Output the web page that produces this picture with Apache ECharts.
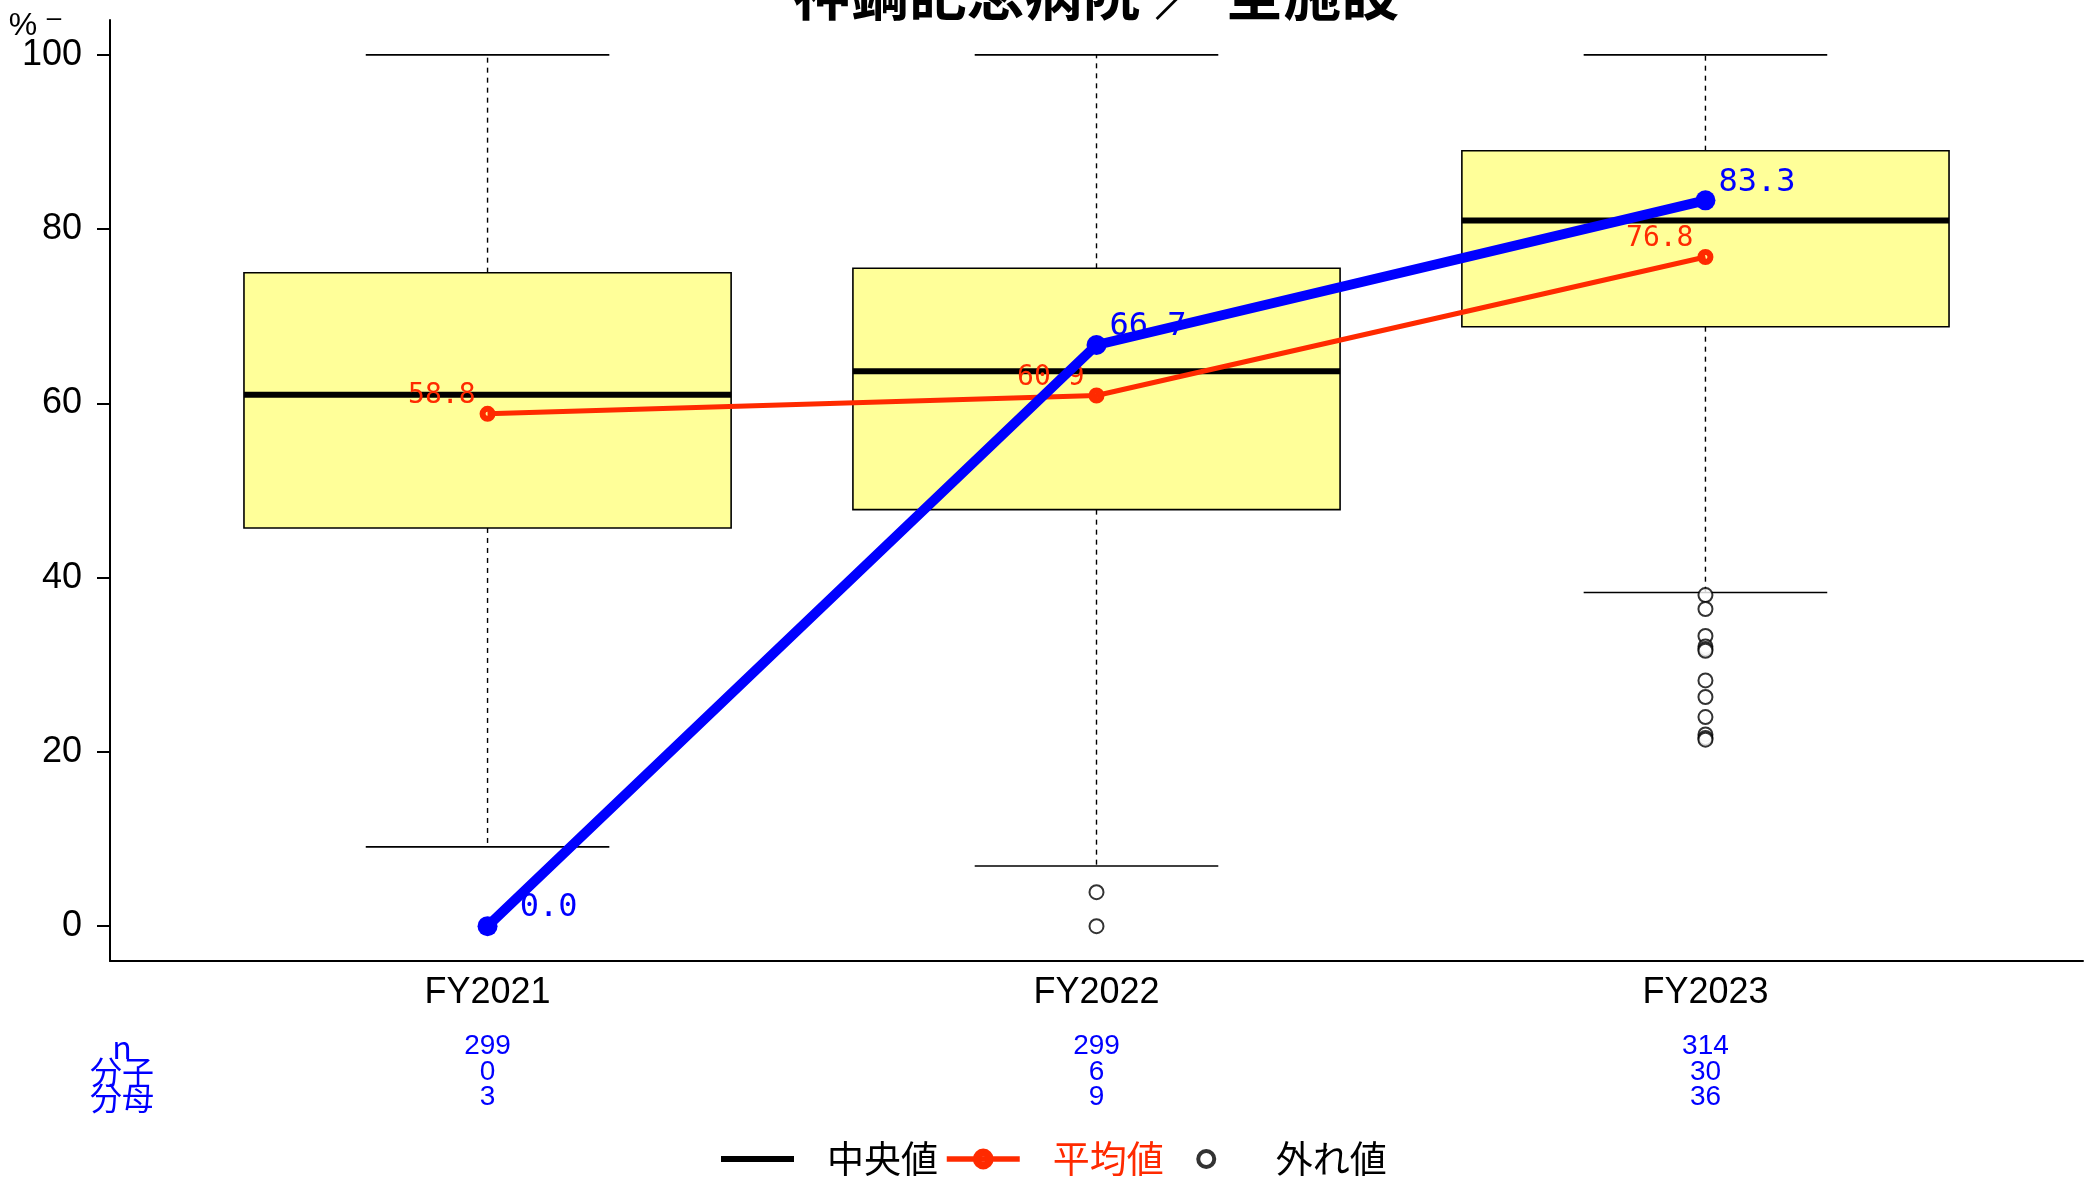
<!DOCTYPE html>
<html>
<head>
<meta charset="utf-8">
<script src="https://cdn.jsdelivr.net/npm/echarts@6/dist/echarts.min.js"></script>
<style>
html,body{margin:0;padding:0;background:#fff;}
#chart{width:2089px;height:1181px;}
</style>
</head>
<body>
<div id="chart"></div>
<script>
// ---- data ----
const categories = ['FY2021', 'FY2022', 'FY2023'];
const whiskerLow  = [9.1, 6.9, 38.3];
const q1          = [45.7, 47.8, 68.8];
const median      = [61.0, 63.7, 81.0];
const q3          = [75.0, 75.5, 89.0];
const whiskerHigh = [100, 100, 100];
const meanValues     = [58.8, 60.9, 76.8];
const hospitalValues = [0.0, 66.7, 83.3];
const outliersFY2021 = [];
const outliersFY2022 = [3.9, 0];
const outliersFY2023 = [38.0, 36.4, 33.3, 32.1, 31.8, 31.6, 28.2, 26.3, 24.0, 22.0, 21.6, 21.4];
const nCounts      = [299, 299, 314];
const numerators   = [0, 6, 30];
const denominators = [3, 9, 36];
const yTicks = [0, 20, 40, 60, 80, 100];
const titleText = '神鋼記念病院 ／ 全施設';
const rowLabels = ['n', '分子', '分母'];
const legendNames = ['中央値', '平均値', '外れ値'];

// ---- build ----
const xPositions = categories.map((c, i) => i + 1);
const boxData = categories.map((c, i) => [xPositions[i], whiskerLow[i], q1[i], median[i], q3[i], whiskerHigh[i]]);
const outlierData = [];
[outliersFY2021, outliersFY2022, outliersFY2023].forEach((arr, i) => arr.forEach(v => outlierData.push([xPositions[i], v])));
const meanData = meanValues.map((v, i) => [xPositions[i], v]);
const hospData = hospitalValues.map((v, i) => [xPositions[i], v]);

const SANS = '"Liberation Sans",Arial,sans-serif';
const CJK = '"Noto Sans CJK JP","Noto Sans",sans-serif';
const MONO = '"DejaVu Sans Mono","Liberation Mono",monospace';
const RED = '#FF2A00';
const BLUE = '#0000FF';
const fmt = v => v.toFixed(1).padStart(4, ' ');

function renderBox(params, api) {
  const x = api.value(0);
  const lo = api.value(1), a = api.value(2), m = api.value(3), b = api.value(4), hi = api.value(5);
  const pLo = api.coord([x, lo]), pA = api.coord([x, a]), pM = api.coord([x, m]);
  const pB = api.coord([x, b]), pHi = api.coord([x, hi]);
  const boxW = api.size([0.8, 0])[0];
  const capW = api.size([0.4, 0])[0];
  const cx = pA[0];
  const dashStyle = {stroke: '#000', lineWidth: 1.4, lineDash: [5, 5], fill: null};
  const solid = {stroke: '#000', lineWidth: 1.6, fill: null};
  return {
    type: 'group',
    children: [
      {type: 'line', shape: {x1: cx, y1: pB[1], x2: cx, y2: pHi[1]}, style: dashStyle},
      {type: 'line', shape: {x1: cx, y1: pA[1], x2: cx, y2: pLo[1]}, style: dashStyle},
      {type: 'line', shape: {x1: cx - capW / 2, y1: pHi[1], x2: cx + capW / 2, y2: pHi[1]}, style: solid},
      {type: 'line', shape: {x1: cx - capW / 2, y1: pLo[1], x2: cx + capW / 2, y2: pLo[1]}, style: solid},
      {type: 'rect', shape: {x: cx - boxW / 2, y: pB[1], width: boxW, height: pA[1] - pB[1]},
        style: {fill: '#FFFF99', stroke: '#000', lineWidth: 1.6}},
      {type: 'line', shape: {x1: cx - boxW / 2, y1: pM[1], x2: cx + boxW / 2, y2: pM[1]},
        style: {stroke: '#000', lineWidth: 6}}
    ]
  };
}

// symbols / legend icons
const DONUT = 'path://M0 8A8 8 0 1 0 16 8A8 8 0 1 0 0 8ZM6 8A2 2 0 1 1 10 8A2 2 0 1 1 6 8Z';
const ICON_MEDIAN = 'path://M0 10H73V16H0Z';
const ICON_OUTLIER = 'path://M0 0L0.01 0M73 26L73.01 26M26.5 13A10 10 0 1 0 46.5 13A10 10 0 1 0 26.5 13ZM30.5 13A6 6 0 1 1 42.5 13A6 6 0 1 1 30.5 13Z';

const chart = echarts.init(document.getElementById('chart'), null, {renderer: 'canvas'});
chart.setOption({
  animation: false,
  backgroundColor: '#fff',
  grid: {left: 110, right: 6, top: 20, bottom: 220, containLabel: false},
  xAxis: {
    type: 'value', min: 0.38, max: 3.62,
    axisLine: {show: true, onZero: false, lineStyle: {color: '#000', width: 2}},
    axisTick: {show: false},
    splitLine: {show: false},
    axisLabel: {
      customValues: xPositions,
      margin: 11,
      formatter: function (v) {
        const i = Math.round(v) - 1;
        return '{fy|' + categories[i] + '}\n{gap| }\n{t|' + nCounts[i] + '}\n{t|' + numerators[i] + '}\n{t|' + denominators[i] + '}';
      },
      rich: {
        fy: {fontSize: 36, lineHeight: 42, fontFamily: SANS, color: '#000'},
        gap: {fontSize: 10, lineHeight: 20},
        t: {fontSize: 28, lineHeight: 25.5, fontFamily: SANS, color: BLUE}
      }
    }
  },
  yAxis: {
    type: 'value', min: -4, max: 104,
    axisLine: {show: true, onZero: false, lineStyle: {color: '#000', width: 2}},
    axisTick: {show: true, customValues: yTicks, length: 13, lineStyle: {color: '#000', width: 2}},
    splitLine: {show: false},
    axisLabel: {customValues: yTicks, fontSize: 36, fontFamily: SANS, color: '#000', margin: 28}
  },
  legend: {
    left: 721, top: 1139, padding: 0,
    itemWidth: 73, itemHeight: 26, itemGap: 6,
    textStyle: {fontSize: 37, lineHeight: 40, fontFamily: CJK, color: '#000', padding: [0, 0, 0, 28]},
    data: [
      {name: legendNames[0], icon: ICON_MEDIAN, itemStyle: {color: '#000', borderWidth: 0}},
      {name: legendNames[1], textStyle: {color: RED}, lineStyle: {width: 5.5, color: RED},
        itemStyle: {color: RED, borderWidth: 0}},
      {name: legendNames[2], icon: ICON_OUTLIER, itemStyle: {color: '#000', borderWidth: 0}}
    ]
  },
  graphic: [
    {type: 'text', x: 1096, y: -7, z: 100,
      style: {text: titleText, font: 'bold 58px "Noto Sans CJK JP"', fill: '#000', align: 'center', verticalAlign: 'middle'}},
    {type: 'text', x: 23, y: 26, style: {text: '%', font: '32px ' + SANS, fill: '#000', align: 'center', verticalAlign: 'middle'}},
    {type: 'text', x: 54, y: 19, style: {text: '–', font: '26px ' + SANS, fill: '#000', align: 'center', verticalAlign: 'middle'}},
    {type: 'text', x: 122, y: 1034,
      style: {text: rowLabels.join('\n'), font: '32px ' + CJK, lineHeight: 25.5, fill: BLUE, align: 'center', verticalAlign: 'top'}}
  ],
  series: [
    {
      name: legendNames[0], type: 'custom', renderItem: renderBox, data: boxData,
      encode: {x: 0, y: [1, 2, 3, 4, 5]}, itemStyle: {color: '#000'}, z: 2
    },
    {
      name: legendNames[2], type: 'scatter', data: outlierData, symbol: 'emptyCircle', symbolSize: 14,
      itemStyle: {color: '#000', borderColor: '#000', borderWidth: 2.2}, z: 3
    },
    {
      name: legendNames[1], type: 'line', data: meanData, symbol: DONUT, symbolSize: 16,
      lineStyle: {color: RED, width: 5}, itemStyle: {color: RED, borderWidth: 0},
      label: {show: true, position: 'left', distance: 4, offset: [0, -18], formatter: p => fmt(p.value[1]),
        color: RED, fontSize: 28, fontFamily: MONO},
      z: 4
    },
    {
      name: 'hospital', type: 'line', data: hospData, symbol: 'circle', symbolSize: 20,
      lineStyle: {color: BLUE, width: 10}, itemStyle: {color: BLUE},
      label: {show: true, position: 'right', distance: 3, offset: [0, -18], formatter: p => fmt(p.value[1]),
        color: BLUE, fontSize: 32, fontFamily: MONO},
      z: 5
    }
  ]
});
</script>
</body>
</html>
